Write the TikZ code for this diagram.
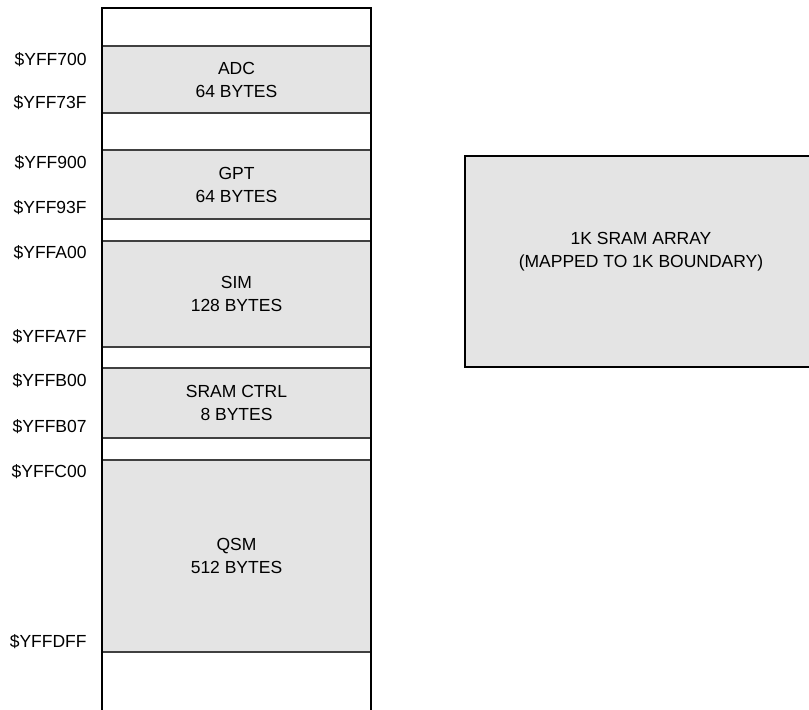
\documentclass[tikz,border=0pt]{standalone}
\usepackage{fontspec}
\setmainfont{Liberation Sans}
\usetikzlibrary{positioning}
\definecolor{mapgray}{HTML}{E4E4E4}
\definecolor{lineGray}{HTML}{404040}
\tikzset{
	memblock/.style={
			rectangle,
			draw=lineGray,
			thick,
			fill=mapgray,
			minimum width=134.5pt,
			inner sep=0pt,
			outer sep=0pt,
			align=center,
			font=\fontsize{8.75}{11.5}\selectfont
		},
	addrlabel/.style={
			anchor=east,
			inner sep=0pt,
			font=\fontsize{8.75}{11.5}\selectfont
		},
	sramarray/.style={
			rectangle,
			draw=black,
			line width=1pt,
			fill=mapgray,
			anchor=north west,
			minimum width=185pt,
			minimum height=105.5pt,
			inner sep=0pt
		},
	maptext/.style={
			align=center,
			inner sep=0pt,
			font=\fontsize{8.75}{11.5}\selectfont
		},
	column/.style={
			draw=black,
			line width=1pt
		}
}

\begin{document}
\begin{tikzpicture}[x=0.5pt, y=-0.5pt]
\useasboundingbox (0,0) rectangle (809,710);
\clip (0,0) rectangle (809,710);
    % memory map blocks
    \node[memblock, minimum height=33.5pt] (adc) at (236.5,79.5)  { ADC\\64 BYTES };
    \node[memblock, minimum height=34.5pt] (gpt) at (236.5,184.5)  { GPT\\64 BYTES };
    \node[memblock, minimum height=53pt] (sim) at (236.5,294)  { SIM\\128 BYTES };
    \node[memblock, minimum height=35pt] (sramctrl) at (236.5,403)  { SRAM CTRL\\8 BYTES };
    \node[memblock, minimum height=96pt] (qsm) at (236.5,556)  { QSM\\512 BYTES };

    % column outline
    \coordinate (colbl) at (102,720);
    \coordinate (coltl) at (102,8);
    \coordinate (coltr) at (371,8);
    \coordinate (colbr) at (371,720);
    \draw[column] (colbl) -- (coltl) -- (coltr) -- (colbr);

    % addresses
    \node[addrlabel] (a1) at (87,60)  { \$YFF700 };
    \node[addrlabel] (a2) at (87,103)  { \$YFF73F };
    \node[addrlabel] (a3) at (87,163)  { \$YFF900 };
    \node[addrlabel] (a4) at (87,208)  { \$YFF93F };
    \node[addrlabel] (a5) at (87,253)  { \$YFFA00 };
    \node[addrlabel] (a6) at (87,337)  { \$YFFA7F };
    \node[addrlabel] (a7) at (87,381)  { \$YFFB00 };
    \node[addrlabel] (a8) at (87,427)  { \$YFFB07 };
    \node[addrlabel] (a9) at (87,472)  { \$YFFC00 };
    \node[addrlabel] (a10) at (87,642)  { \$YFFDFF };

    % sram array
    \node[sramarray] (sram) at (464,155)  {};
    \node[maptext] (sramtext) at (641,252)  { 1K SRAM ARRAY\\(MAPPED TO 1K BOUNDARY) };

\end{tikzpicture}
\end{document}
